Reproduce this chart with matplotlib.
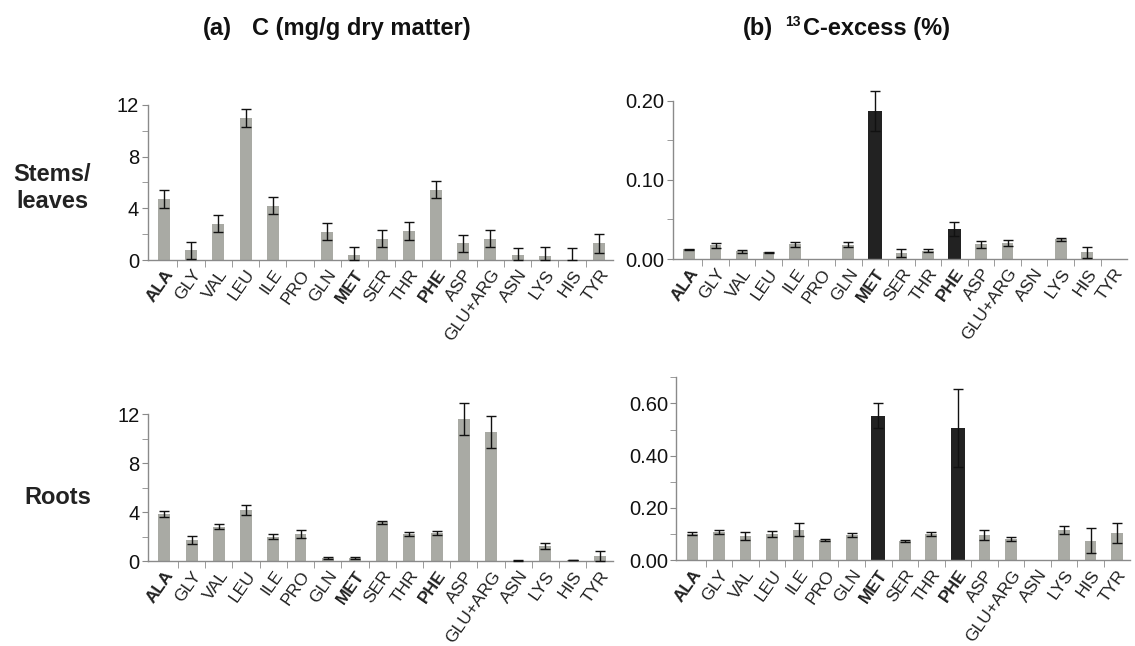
import numpy as np
import matplotlib
matplotlib.use("Agg")
import matplotlib.pyplot as plt
from matplotlib.ticker import MultipleLocator, FixedLocator

plt.rcParams['font.family'] = ['Liberation Sans', 'DejaVu Sans']

amino = ['ALA', 'GLY', 'VAL', 'LEU', 'ILE', 'PRO', 'GLN', 'MET', 'SER',
         'THR', 'PHE', 'ASP', 'GLU+ARG', 'ASN', 'LYS', 'HIS', 'TYR']
bold_labels = ['ALA', 'MET', 'PHE']
dark_bars = ['MET', 'PHE']

# (a) C (mg/g dry matter) - stems/leaves
c_stems = [4.75, 0.75, 2.8, 11.0, 4.2, 0.0, 2.2, 0.35, 1.65, 2.25, 5.45, 1.28, 1.65, 0.35, 0.28, 0.0, 1.28]
c_stems_err = [0.7, 0.65, 0.67, 0.7, 0.67, 0.0, 0.67, 0.68, 0.65, 0.67, 0.67, 0.65, 0.65, 0.56, 0.75, 0.9, 0.7]
# (a) roots
c_roots = [3.85, 1.74, 2.82, 4.18, 2.01, 2.23, 0.27, 0.3, 3.18, 2.23, 2.31, 11.57, 10.53, 0.07, 1.25, 0.12, 0.42]
c_roots_err = [0.24, 0.3, 0.22, 0.38, 0.18, 0.33, 0.1, 0.08, 0.15, 0.15, 0.2, 1.3, 1.3, 0.02, 0.25, 0.03, 0.4]

# (b) 13C-excess (%) - stems/leaves
x_stems = [0.0122, 0.0173, 0.0097, 0.0084, 0.0185, 0.0, 0.018, 0.187, 0.0072, 0.0105, 0.038, 0.0185, 0.0206, 0.0, 0.0248, 0.0088, 0.0]
x_stems_err = [0.001, 0.003, 0.002, 0.001, 0.003, 0.0, 0.003, 0.025, 0.005, 0.002, 0.009, 0.004, 0.004, 0.0, 0.002, 0.007, 0.0]
# (b) roots
x_roots = [0.102, 0.108, 0.093, 0.100, 0.116, 0.078, 0.097, 0.553, 0.073, 0.101, 0.507, 0.097, 0.080, 0.0, 0.116, 0.074, 0.104]
x_roots_err = [0.006, 0.006, 0.015, 0.011, 0.025, 0.005, 0.008, 0.048, 0.004, 0.007, 0.15, 0.018, 0.008, 0.0, 0.014, 0.048, 0.037]

GRAY = '#a9aaa4'
DARK = '#222222'
AXC = '#8a8a8a'

fig = plt.figure(figsize=(11.35, 6.46), dpi=100)


def panel(rect, vals, errs, ylim, major, minor, fmt, highlight):
    ax = fig.add_axes(rect)
    x = np.arange(len(amino))
    v = np.array(vals)
    e = np.array(errs)
    cols = [DARK if (highlight and a in dark_bars) else GRAY for a in amino]
    widths = [0.52 if (highlight and a in dark_bars) else 0.44 for a in amino]
    ax.bar(x, v, width=widths, color=cols, edgecolor='none', zorder=2)
    lower = np.minimum(e, v)
    m = e > 0
    ax.errorbar(x[m], v[m], yerr=[lower[m], e[m]], fmt='none', ecolor='#111111',
                elinewidth=1, capsize=3.5, capthick=1, clip_on=False, zorder=3)
    ax.set_xlim(-0.6, len(amino) - 0.5)
    ax.set_ylim(*ylim)
    for s in ['top', 'right']:
        ax.spines[s].set_visible(False)
    for s in ['left', 'bottom']:
        ax.spines[s].set_color(AXC)
        ax.spines[s].set_linewidth(1)
    ax.yaxis.set_major_locator(MultipleLocator(major))
    ax.yaxis.set_minor_locator(FixedLocator(minor))
    ax.yaxis.set_major_formatter(fmt)
    ax.tick_params(axis='y', which='both', direction='out', color=AXC, length=4,
                   labelsize=14.5, pad=2, labelcolor='#111111')
    ax.set_xticks(x)
    ax.set_xticklabels(amino)
    ax.set_xticks(x[:-1] + 0.5, minor=True)
    ax.tick_params(axis='x', which='major', length=0, pad=5)
    ax.tick_params(axis='x', which='minor', direction='out', color=AXC, length=5)
    for lab in ax.get_xticklabels():
        lab.set_rotation(55)
        lab.set_ha('right')
        lab.set_va('top')
        lab.set_rotation_mode('anchor')
        lab.set_fontsize(12.5)
        lab.set_color('#222222')
        if lab.get_text() in bold_labels:
            lab.set_fontweight('bold')
    return ax


panel([0.130, 0.5975, 0.41, 0.240], c_stems, c_stems_err, (0, 12), 4, [2, 6, 10],
      '{x:.0f}', False)
panel([0.593, 0.599, 0.40, 0.245], x_stems, x_stems_err, (0, 0.2), 0.1, [0.05, 0.15],
      '{x:.2f}', True)
panel([0.1305, 0.131, 0.41, 0.228], c_roots, c_roots_err, (0, 12), 4, [2, 6, 10],
      '{x:.0f}', False)
panel([0.596, 0.1327, 0.40, 0.2833], x_roots, x_roots_err, (0, 0.7), 0.2, [0.1, 0.3, 0.5, 0.7],
      '{x:.2f}', True)

tfont = dict(fontsize=17, fontweight='bold', color='#111111')
ty = 1 - 29 / 646
fig.text(203 / 1135, ty, '(a)', ha='left', va='center', **tfont)
fig.text(252 / 1135, ty, 'C (mg/g dry matter)', ha='left', va='center', **tfont)
fig.text(743 / 1135, ty, '(b)', ha='left', va='center', **tfont)
fig.text(801 / 1135, 1 - 22 / 646, '13', ha='right', va='center', fontsize=10,
         fontweight='bold', color='#111111')
fig.text(803 / 1135, ty, 'C-excess (%)', ha='left', va='center', **tfont)

rfont = dict(fontsize=17, fontweight='bold', color='#222222')
fig.text(52 / 1135, 1 - 188 / 646, 'Stems/\nleaves', ha='center', va='center', linespacing=1.2, **rfont)
fig.text(58 / 1135, 1 - 497 / 646, 'Roots', ha='center', va='center', **rfont)

fig.savefig('out.png', dpi=100)
